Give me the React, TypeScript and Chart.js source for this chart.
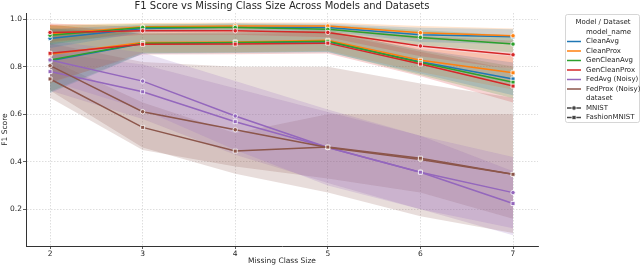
import React, { useEffect, useRef } from "react";
import { Chart, registerables } from "chart.js";

Chart.register(...registerables);

const missingClassSizes = [2, 3, 4, 5, 6, 7];
const yTickValues = [0.2, 0.4, 0.6, 0.8, 1.0];
const modelNames = ["CleanAvg", "CleanProx", "GenCleanAvg", "GenCleanProx", "FedAvg (Noisy)", "FedProx (Noisy)"];
const datasetNames = ["MNIST", "FashionMNIST"];
const modelColors = ["#1f77b4", "#ff7f0e", "#2ca02c", "#d62728", "#9467bd", "#8c564b"];

// MNIST means and bands
const cleanAvgMnist = [0.92, 0.962, 0.968, 0.966, 0.935, 0.927];
const cleanAvgMnistLow = [0.88, 0.945, 0.952, 0.95, 0.905, 0.895];
const cleanAvgMnistHigh = [0.96, 0.978, 0.984, 0.982, 0.965, 0.958];
const cleanProxMnist = [0.938, 0.969, 0.972, 0.972, 0.944, 0.931];
const cleanProxMnistLow = [0.9, 0.953, 0.957, 0.957, 0.915, 0.9];
const cleanProxMnistHigh = [0.978, 0.985, 0.987, 0.987, 0.972, 0.962];
const genCleanAvgMnist = [0.933, 0.966, 0.966, 0.958, 0.924, 0.896];
const genCleanAvgMnistLow = [0.893, 0.95, 0.95, 0.94, 0.892, 0.86];
const genCleanAvgMnistHigh = [0.973, 0.982, 0.982, 0.976, 0.955, 0.932];
const genCleanProxMnist = [0.945, 0.952, 0.952, 0.945, 0.888, 0.851];
const genCleanProxMnistLow = [0.907, 0.935, 0.935, 0.925, 0.845, 0.79];
const genCleanProxMnistHigh = [0.983, 0.969, 0.969, 0.965, 0.93, 0.91];
const fedAvgMnist = [0.829, 0.74, 0.593, 0.46, 0.356, 0.27];
const fedAvgMnistLow = [0.74, 0.62, 0.45, 0.3, 0.2, 0.12];
const fedAvgMnistHigh = [0.91, 0.86, 0.74, 0.62, 0.51, 0.42];
const fedProxMnist = [0.805, 0.611, 0.535, 0.46, 0.41, 0.347];
const fedProxMnistLow = [0.7, 0.46, 0.35, 0.27, 0.17, 0.1];
const fedProxMnistHigh = [0.9, 0.82, 0.8, 0.8, 0.73, 0.67];

// FashionMNIST means and bands
const cleanAvgFashion = [0.826, 0.898, 0.902, 0.906, 0.822, 0.749];
const cleanAvgFashionLow = [0.69, 0.855, 0.858, 0.862, 0.772, 0.68];
const cleanAvgFashionHigh = [0.962, 0.941, 0.946, 0.95, 0.872, 0.818];
const cleanProxFashion = [0.853, 0.903, 0.905, 0.912, 0.828, 0.775];
const cleanProxFashionLow = [0.73, 0.86, 0.862, 0.868, 0.778, 0.705];
const cleanProxFashionHigh = [0.976, 0.946, 0.948, 0.956, 0.878, 0.845];
const genCleanAvgFashion = [0.829, 0.9, 0.903, 0.908, 0.818, 0.735];
const genCleanAvgFashionLow = [0.695, 0.857, 0.86, 0.864, 0.766, 0.668];
const genCleanAvgFashionHigh = [0.963, 0.943, 0.946, 0.952, 0.87, 0.802];
const genCleanProxFashion = [0.857, 0.895, 0.896, 0.9, 0.812, 0.719];
const genCleanProxFashionLow = [0.735, 0.852, 0.853, 0.856, 0.76, 0.65];
const genCleanProxFashionHigh = [0.979, 0.938, 0.939, 0.944, 0.864, 0.788];
const fedAvgFashion = [0.78, 0.695, 0.569, 0.46, 0.356, 0.224];
const fedAvgFashionLow = [0.7, 0.58, 0.43, 0.31, 0.2, 0.09];
const fedAvgFashionHigh = [0.86, 0.81, 0.71, 0.61, 0.51, 0.36];
const fedProxFashion = [0.749, 0.545, 0.445, 0.462, 0.415, 0.347];
const fedProxFashionLow = [0.67, 0.45, 0.38, 0.33, 0.27, 0.16];
const fedProxFashionHigh = [0.83, 0.65, 0.52, 0.6, 0.6, 0.6];

const meansByDataset = [
  [cleanAvgMnist, cleanProxMnist, genCleanAvgMnist, genCleanProxMnist, fedAvgMnist, fedProxMnist],
  [cleanAvgFashion, cleanProxFashion, genCleanAvgFashion, genCleanProxFashion, fedAvgFashion, fedProxFashion],
];
const lowsByDataset = [
  [cleanAvgMnistLow, cleanProxMnistLow, genCleanAvgMnistLow, genCleanProxMnistLow, fedAvgMnistLow, fedProxMnistLow],
  [cleanAvgFashionLow, cleanProxFashionLow, genCleanAvgFashionLow, genCleanProxFashionLow, fedAvgFashionLow, fedProxFashionLow],
];
const highsByDataset = [
  [cleanAvgMnistHigh, cleanProxMnistHigh, genCleanAvgMnistHigh, genCleanProxMnistHigh, fedAvgMnistHigh, fedProxMnistHigh],
  [cleanAvgFashionHigh, cleanProxFashionHigh, genCleanAvgFashionHigh, genCleanProxFashionHigh, fedAvgFashionHigh, fedProxFashionHigh],
];
const datasetMarkers = ["circle", "rect"];

const FONT = '"DejaVu Sans", sans-serif';
const TEXT_COLOR = "#262626";

function hexToRgba(hex: string, a: number) {
  const n = parseInt(hex.slice(1), 16);
  return `rgba(${(n >> 16) & 255},${(n >> 8) & 255},${n & 255},${a})`;
}

function toPoints(values: number[]) {
  return values.map((v, i) => ({ x: missingClassSizes[i], y: v }));
}

const legendPlugin = {
  id: "customLegend",
  afterDraw(chart: any) {
    const ctx = chart.ctx as CanvasRenderingContext2D;
    ctx.save();
    const left = 565.5, top = 14.5, right = 639.5, bottom = 122.5, r = 2;
    ctx.beginPath();
    ctx.moveTo(left + r, top);
    ctx.lineTo(right - r, top);
    ctx.quadraticCurveTo(right, top, right, top + r);
    ctx.lineTo(right, bottom - r);
    ctx.quadraticCurveTo(right, bottom, right - r, bottom);
    ctx.lineTo(left + r, bottom);
    ctx.quadraticCurveTo(left, bottom, left, bottom - r);
    ctx.lineTo(left, top + r);
    ctx.quadraticCurveTo(left, top, left + r, top);
    ctx.closePath();
    ctx.fillStyle = "rgba(255,255,255,0.8)";
    ctx.fill();
    ctx.strokeStyle = "#cccccc";
    ctx.lineWidth = 0.8;
    ctx.stroke();

    ctx.fillStyle = TEXT_COLOR;
    ctx.textBaseline = "middle";
    ctx.textAlign = "center";
    ctx.font = `7px ${FONT}`;
    ctx.fillText("Model / Dataset", 603, 22);

    ctx.textAlign = "left";
    const textX = 586;
    const hx1 = 567, hx2 = 581;
    const rowY = (k: number) => 32 + k * 9.5;
    ctx.fillText("model_name", textX, rowY(0));
    modelNames.forEach((name, i) => {
      const y = rowY(i + 1);
      ctx.strokeStyle = modelColors[i];
      ctx.lineWidth = 1.5;
      ctx.beginPath();
      ctx.moveTo(hx1, y);
      ctx.lineTo(hx2, y);
      ctx.stroke();
      ctx.fillStyle = TEXT_COLOR;
      ctx.fillText(name, textX, y);
    });
    ctx.fillText("dataset", textX, rowY(7));
    datasetNames.forEach((name, j) => {
      const y = rowY(8 + j);
      ctx.strokeStyle = "#444444";
      ctx.lineWidth = 1.5;
      ctx.beginPath();
      ctx.moveTo(hx1, y);
      ctx.lineTo(hx2, y);
      ctx.stroke();
      ctx.fillStyle = "#444444";
      ctx.strokeStyle = "#ffffff";
      ctx.lineWidth = 0.7;
      const cx = (hx1 + hx2) / 2;
      ctx.beginPath();
      if (j === 0) ctx.arc(cx, y, 2.2, 0, Math.PI * 2);
      else ctx.rect(cx - 2, y - 2, 4, 4);
      ctx.fill();
      ctx.stroke();
      ctx.fillStyle = TEXT_COLOR;
      ctx.fillText(name, textX, y);
    });
    ctx.restore();
  },
};

export default function App() {
  const canvasRef = useRef<HTMLCanvasElement | null>(null);

  useEffect(() => {
    document.body.style.margin = "0";
    const canvas = canvasRef.current;
    if (!canvas) return;

    const bandSets: any[] = [];
    const lineSets: any[] = [];
    for (let d = 0; d < datasetNames.length; d++) {
      for (let m = 0; m < modelNames.length; m++) {
        bandSets.push({
          label: `${modelNames[m]} ${datasetNames[d]} low`,
          data: toPoints(lowsByDataset[d][m]),
          borderWidth: 0,
          borderColor: "rgba(0,0,0,0)",
          pointRadius: 0,
          fill: false,
        });
        bandSets.push({
          label: `${modelNames[m]} ${datasetNames[d]} high`,
          data: toPoints(highsByDataset[d][m]),
          borderWidth: 0,
          borderColor: "rgba(0,0,0,0)",
          backgroundColor: hexToRgba(modelColors[m], 0.2),
          pointRadius: 0,
          fill: "-1",
        });
      }
    }
    // seaborn draws later series on top -> reverse so they get lower index (drawn last)
    for (let m = modelNames.length - 1; m >= 0; m--) {
      for (let d = datasetNames.length - 1; d >= 0; d--) {
        lineSets.push({
          label: `${modelNames[m]} ${datasetNames[d]}`,
          data: toPoints(meansByDataset[d][m]),
          borderColor: modelColors[m],
          backgroundColor: modelColors[m],
          borderWidth: 1.5,
          pointStyle: datasetMarkers[d],
          pointRadius: d === 0 ? 2.2 : 2.8,
          pointBorderColor: "#ffffff",
          pointBorderWidth: 0.8,
          pointBackgroundColor: modelColors[m],
          fill: false,
          tension: 0,
        });
      }
    }

    const chart = new Chart(canvas, {
      type: "line",
      data: { datasets: [...lineSets, ...bandSets] },
      options: {
        responsive: false,
        animation: false,
        devicePixelRatio: 1,
        events: [],
        layout: { padding: { left: 0, right: 102, top: 0, bottom: 0 } },
        scales: {
          x: {
            type: "linear",
            min: 1.74,
            max: 7.27,
            afterBuildTicks: (s: any) => {
              s.ticks = missingClassSizes.map((v) => ({ value: v }));
            },
            afterFit: (s: any) => {
              s.height = 21;
            },
            ticks: {
              color: TEXT_COLOR,
              font: { family: FONT, size: 7.5 },
              padding: 1,
              maxRotation: 0,
              callback: (v: any) => String(v),
            },
            grid: {
              color: "#d6d6d6",
              lineWidth: 0.8,
              tickColor: "#333333",
              tickLength: 3,
              tickWidth: 0.8,
              tickBorderDash: [],
            },
            border: { color: "#333333", width: 1, dash: [1.5, 1.5] },
            title: {
              display: true,
              text: "Missing Class Size",
              color: TEXT_COLOR,
              font: { family: FONT, size: 7.5 },
              padding: { top: 0, bottom: 1 },
            },
          },
          y: {
            type: "linear",
            min: 0.045,
            max: 1.027,
            afterBuildTicks: (s: any) => {
              s.ticks = yTickValues.map((v) => ({ value: v }));
            },
            afterFit: (s: any) => {
              s.width = 26;
            },
            ticks: {
              color: TEXT_COLOR,
              font: { family: FONT, size: 7.5 },
              padding: 1,
              callback: (v: any) => Number(v).toFixed(1),
            },
            grid: {
              color: "#d6d6d6",
              lineWidth: 0.8,
              tickColor: "#333333",
              tickLength: 3,
              tickWidth: 0.8,
              tickBorderDash: [],
            },
            border: { color: "#333333", width: 1, dash: [1.5, 1.5] },
            title: {
              display: true,
              text: "F1 Score",
              color: TEXT_COLOR,
              font: { family: FONT, size: 7.5 },
              padding: { top: 1, bottom: 0 },
            },
          },
        },
        plugins: {
          legend: { display: false },
          tooltip: { enabled: false },
          filler: { drawTime: "beforeDatasetsDraw" },
          title: {
            display: true,
            text: "F1 Score vs Missing Class Size Across Models and Datasets",
            color: TEXT_COLOR,
            fullSize: false,
            font: { family: FONT, size: 10, weight: "normal", lineHeight: 1.1 },
            padding: { top: 1, bottom: 1 },
          },
        },
      } as any,
      plugins: [legendPlugin],
    });

    return () => chart.destroy();
  }, []);

  return <canvas ref={canvasRef} width={640} height={267} style={{ display: "block" }} />;
}
